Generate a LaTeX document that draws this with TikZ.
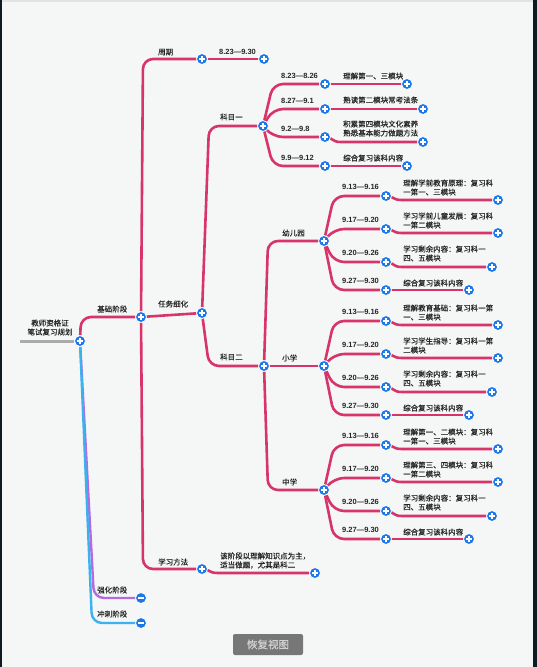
\documentclass[tikz,border=0pt]{standalone}
\usepackage{fontspec}
\setmainfont{Noto Sans CJK SC}[FakeBold=0.4]
\newfontfamily\datefont{Liberation Sans}
\usetikzlibrary{backgrounds,calc}
\definecolor{bgc}{HTML}{F5F6F6}
\definecolor{darkedge}{HTML}{101A24}
\definecolor{topl}{HTML}{E2E3E3}
\definecolor{redl}{HTML}{D7346A}
\definecolor{bluel}{HTML}{3AB2EE}
\definecolor{purl}{HTML}{B46BE2}
\definecolor{grayl}{HTML}{ABABAB}
\definecolor{nodeblue}{HTML}{1C78E6}
\definecolor{txt}{HTML}{262626}
\definecolor{btnfill}{HTML}{777777}
\definecolor{btntext}{HTML}{D2D2D2}
\tikzset{
  circbase/.style={circle, fill=nodeblue, draw=white, line width=0.8pt, minimum size=11pt, inner sep=0pt},
  pl/.style={circbase, path picture={\draw[white,line width=1.4pt] (path picture bounding box.center) +(-3pt,0) -- +(3pt,0) (path picture bounding box.center) +(0,-3pt) -- +(0,3pt);}},
  mn/.style={circbase, path picture={\draw[white,line width=1.4pt] (path picture bounding box.center) +(-3pt,0) -- +(3pt,0);}},
  lbl/.style={anchor=west, inner sep=0pt, text=txt, font=\fontsize{7.5}{9}\selectfont},
  dt/.style={anchor=west, inner sep=0pt, text=txt, font=\datefont\bfseries\fontsize{7.5}{9}\selectfont},
  br/.style={draw=redl, line width=2.6pt, rounded corners=10pt, line cap=round},
  bc/.style={draw=redl, line width=2.6pt, sharp corners, line cap=round},
  bl/.style={draw=bluel, line width=2.4pt, rounded corners=10pt, line cap=round},
  pu/.style={draw=purl, line width=2.4pt, rounded corners=10pt, line cap=round},
  gl/.style={draw=grayl, line width=3pt},
  btnbox/.style={fill=btnfill, rounded corners=2pt, minimum width=70pt, minimum height=21pt, inner sep=0pt, text=btntext, font=\fontsize{10.5}{12}\selectfont}
}
% S-shaped drop from a date circle to the line of its leaf
\newcommand{\sdrop}[3]{%
  \draw[bc] (#1.center) .. controls ([shift={(8,0)}]#1.center) and ([shift={(6,#3)}]#1.center) .. ([shift={(16,#3)}]#1.center) -- (#2);}
\newcommand{\mkgroup}[7]{%
  \node[pl] (#1) at (324,#2) {};
  \node[lbl] (#1T) at (282,#2-8) {#3};
  \node[pl] (#1a) at (386,#2-45) {};
  \node[pl] (#1b) at (386,#2-12) {};
  \node[pl] (#1c) at (386,#2+21) {};
  \node[pl] (#1d) at (386,#2+49) {};
  \node[pl] (#1aL) at (498,#2-41) {};
  \node[pl] (#1bL) at (498,#2-8) {};
  \node[pl] (#1cL) at (492,#2+26) {};
  \node[pl] (#1dL) at (469,#2+49) {};
  \node[dt] (#1aD) at (342,#2-54) {9.13—9.16};
  \node[dt] (#1bD) at (342,#2-21) {9.17—9.20};
  \node[dt] (#1cD) at (342,#2+12) {9.20—9.26};
  \node[dt] (#1dD) at (342,#2+40) {9.27—9.30};
  \node[lbl,align=left] (#1aT) at (403,#2-53.5) {#4};
  \node[lbl,align=left] (#1bT) at (403,#2-20.5) {#5};
  \node[lbl,align=left] (#1cT) at (403,#2+12.5) {#6};
  \node[lbl] (#1dT) at (403,#2+42) {#7};
  \begin{scope}[on background layer]
    \draw[br] (#1) -- (334,#2-45) -- (#1a);
    \draw[br] (#1) -- (334,#2-12) -- (#1b);
    \draw[br] (#1) -- (334,#2+21) -- (#1c);
    \draw[br] (#1) -- (334,#2+49) -- (#1d);
    \sdrop{#1a}{#1aL}{4}
    \sdrop{#1b}{#1bL}{4}
    \sdrop{#1c}{#1cL}{5}
    \draw[br] (#1d) -- (#1dL);
  \end{scope}
}
\begin{document}
\begin{tikzpicture}[x=1pt,y=-1pt]
\begin{scope}[on background layer]
  \fill[bgc] (0,0) rectangle (537,667);
  \fill[topl] (0,0) rectangle (533,2);
  \fill[darkedge] (0,0) rectangle (1.5,667);
  \fill[darkedge] (533,0) rectangle (537,667);
\end{scope}
\useasboundingbox (0,0) rectangle (537,667);

% root and stages
\coordinate (rootS) at (20,341);
\node[pl] (root) at (80,341) {};
\node[lbl,anchor=center,align=center] (rootT) at (50,327.5) {教师资格证\\笔试复习规划};
\node[pl] (jc) at (141,317) {};
\node[lbl] (jcT) at (97,309) {基础阶段};
\node[mn] (qh) at (141,598) {};
\node[lbl] (qhT) at (97,590) {强化阶段};
\node[mn] (cc) at (141,623) {};
\node[lbl] (ccT) at (97,614) {冲刺阶段};

% basic stage children
\node[pl] (zq) at (202,59) {};
\node[lbl] (zqT) at (158,52) {周期};
\node[pl] (zqv) at (264,59) {};
\node[dt] (zqvT) at (219,52) {8.23—9.30};
\node[pl] (rw) at (202,313) {};
\node[lbl] (rwT) at (158,304) {任务细化};
\node[pl] (xx) at (202,569) {};
\node[lbl] (xxT) at (158,562) {学习方法};
\node[pl] (xxv) at (315,573) {};
\node[lbl,align=left] (xxvT) at (220,560.5) {该阶段以理解知识点为主，\\适当做题，尤其是科二};

% subject one
\node[pl] (k1) at (263,126) {};
\node[lbl] (k1T) at (220,117) {科目一};
\node[pl] (k1a) at (325,84) {};
\node[pl] (k1b) at (325,109) {};
\node[pl] (k1c) at (325,137) {};
\node[pl] (k1d) at (325,166) {};
\node[dt] (k1aD) at (281,76) {8.23—8.26};
\node[dt] (k1bD) at (281,101) {8.27—9.1};
\node[dt] (k1cD) at (281,129) {9.2—9.8};
\node[dt] (k1dD) at (281,158) {9.9—9.12};
\node[pl] (k1aL) at (407,84) {};
\node[pl] (k1bL) at (423,109) {};
\node[pl] (k1cL) at (423,142) {};
\node[pl] (k1dL) at (407,166) {};
\node[lbl] (k1aT) at (343,76) {理解第一、三模块};
\node[lbl] (k1bT) at (343,100) {熟读第二模块常考法条};
\node[lbl,align=left] (k1cT) at (343,128.5) {积累第四模块文化素养\\熟悉基本能力做题方法};
\node[lbl] (k1dT) at (343,158) {综合复习该科内容};

% subject two
\node[pl] (k2) at (264,366) {};
\node[lbl] (k2T) at (220,357) {科目二};
\mkgroup{ye}{241}{幼儿园}{理解学前教育原理：复习科\\一第一、三模块}{学习学前儿童发展：复习科\\一第二模块}{学习剩余内容：复习科一\\四、五模块}{综合复习该科内容}
\mkgroup{xs}{366}{小学}{理解教育基础：复习科一第\\一、三模块}{学习学生指导：复习科一第\\二模块}{学习剩余内容：复习科一\\四、五模块}{综合复习该科内容}
\mkgroup{zx}{490}{中学}{理解第一、二模块：复习科\\一第一、三模块}{理解第三、四模块：复习科\\一第二模块}{学习剩余内容：复习科一\\四、五模块}{综合复习该科内容}

% reset button
\node[btnbox] (reset) at (268,644.5) {恢复视图};

\begin{scope}[on background layer]
  \draw[gl] (rootS) -- (root);
  \draw[pu] (root) -- (94,598) -- (qh);
  \draw[bl] (root) -- (92,623) -- (cc);
  \draw[br] (root) -- (81,317) -- (jc);
  \draw[br] (jc) -- (143,59) -- (zq);
  \draw[br] (jc) -- (rw);
  \draw[br] (jc) -- (143,569) -- (xx);
  \draw[br] (zq) -- (zqv);
  \sdrop{xx}{xxv}{4}
  \draw[br] (rw) -- (209,126) -- (k1);
  \draw[br] (rw) -- (209,366) -- (k2);
  \draw[br] (k1) -- (273,84) -- (k1a);
  \draw[br] (k1) -- (273,109) -- (k1b);
  \draw[br] (k1) -- (273,137) -- (k1c);
  \draw[br] (k1) -- (273,166) -- (k1d);
  \draw[br] (k1a) -- (k1aL);
  \draw[br] (k1b) -- (k1bL);
  \sdrop{k1c}{k1cL}{5}
  \draw[br] (k1d) -- (k1dL);
  \draw[br] (k2) -- (268,241) -- (ye);
  \draw[br] (k2) -- (xs);
  \draw[br] (k2) -- (268,490) -- (zx);
\end{scope}
\end{tikzpicture}
\end{document}
